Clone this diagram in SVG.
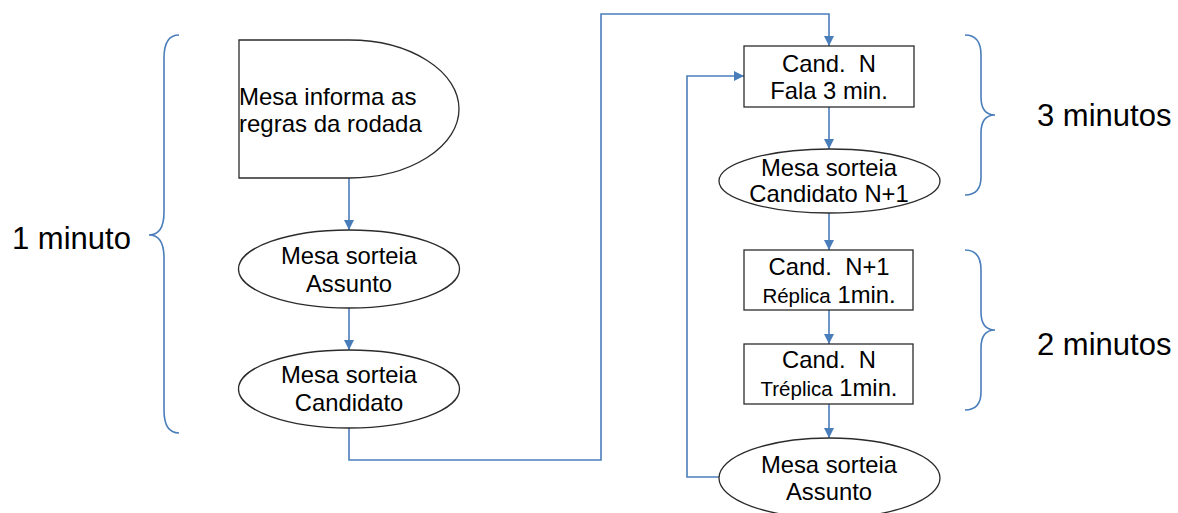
<svg xmlns="http://www.w3.org/2000/svg" width="1178" height="513" viewBox="0 0 1178 513">
<style>
.shape{fill:#ffffff;stroke:#2b2b2b;stroke-width:1.3}
.conn{fill:none;stroke:#4a7ebb;stroke-width:1.6}
.brace{fill:none;stroke:#4a7ebb;stroke-width:1.6}
.t{font-family:"Liberation Sans",Arial,sans-serif;font-size:23.8px;fill:#000;text-anchor:middle}
.tl{font-family:"Liberation Sans",Arial,sans-serif;font-size:24px;fill:#000}
.lab{font-family:"Liberation Sans",Arial,sans-serif;font-size:31px;fill:#000}
</style>
<defs>
<marker id="ah" markerUnits="userSpaceOnUse" markerWidth="10" markerHeight="11" refX="10" refY="5" orient="auto">
<path d="M0,0 L10,5 L0,10 Z" fill="#4a7ebb"/>
</marker>
</defs>
<rect width="1178" height="513" fill="#ffffff"/>
<g id="connectors">
<path class="conn" d="M349,178 L349,230" marker-end="url(#ah)"/>
<path class="conn" d="M349,308 L349,350" marker-end="url(#ah)"/>
<path class="conn" d="M349,428 L349,460 L601,460 L601,14 L829,14 L829,46" marker-end="url(#ah)"/>
<path class="conn" d="M829,107 L829,149" marker-end="url(#ah)"/>
<path class="conn" d="M829,213 L829,250" marker-end="url(#ah)"/>
<path class="conn" d="M829,310 L829,344" marker-end="url(#ah)"/>
<path class="conn" d="M829,404 L829,438" marker-end="url(#ah)"/>
<path class="conn" d="M719,477 L687,477 L687,76 L744,76" marker-end="url(#ah)"/>
</g>
<g id="brace-left">
<path class="brace" d="M179,35 Q164,35 164,58 L164,212 Q164,235 149,235 Q164,235 164,258 L164,410 Q164,433 179,433"/>
</g>
<g id="brace-right-1">
<path class="brace" d="M965,35 Q981,35 981,55 L981,97 Q981,115 995,115 Q981,115 981,133 L981,177 Q981,195 965,195"/>
</g>
<g id="brace-right-2">
<path class="brace" d="M965,250 Q981,250 981,270 L981,312 Q981,330 995,330 Q981,330 981,348 L981,392 Q981,410 965,410"/>
</g>
<g id="node-regras">
<path class="shape" d="M239,40 L349,40 A110,69 0 0 1 349,178 L239,178 Z"/>
<text class="tl" x="239" y="105">Mesa informa as</text>
<text class="tl" x="239" y="132">regras da rodada</text>
</g>
<g id="node-assunto1">
<ellipse class="shape" cx="349" cy="269" rx="110.5" ry="39"/>
<text class="t" x="349" y="264">Mesa sorteia</text>
<text class="t" x="349" y="292">Assunto</text>
</g>
<g id="node-candidato">
<ellipse class="shape" cx="349" cy="389" rx="110.5" ry="39"/>
<text class="t" x="349" y="383">Mesa sorteia</text>
<text class="t" x="349" y="411">Candidato</text>
</g>
<g id="node-candN-fala">
<rect class="shape" x="744" y="46" width="170" height="61"/>
<text class="t" x="829" y="72" xml:space="preserve">Cand.  N</text>
<text class="t" x="829" y="99">Fala 3 min.</text>
</g>
<g id="node-candidatoN1">
<ellipse class="shape" cx="829.5" cy="181" rx="110.5" ry="32"/>
<text class="t" x="829" y="176">Mesa sorteia</text>
<text class="t" x="829" y="202">Candidato N+1</text>
</g>
<g id="node-replica">
<rect class="shape" x="744" y="250" width="169" height="60"/>
<text class="t" x="829" y="275" xml:space="preserve">Cand.  N+1</text>
<text class="t" x="829" y="303"><tspan font-size="20.5">Réplica</tspan> 1min.</text>
</g>
<g id="node-treplica">
<rect class="shape" x="744" y="344" width="169" height="60"/>
<text class="t" x="829" y="368" xml:space="preserve">Cand.  N</text>
<text class="t" x="829" y="396"><tspan font-size="20.5">Tréplica</tspan> 1min.</text>
</g>
<g id="node-assunto2">
<ellipse class="shape" cx="829.5" cy="478" rx="110.5" ry="40"/>
<text class="t" x="829" y="473">Mesa sorteia</text>
<text class="t" x="829" y="500">Assunto</text>
</g>
<g id="labels">
<text class="lab" x="12" y="249">1 minuto</text>
<text class="lab" x="1037" y="126">3 minutos</text>
<text class="lab" x="1037" y="355">2 minutos</text>
</g>
</svg>
